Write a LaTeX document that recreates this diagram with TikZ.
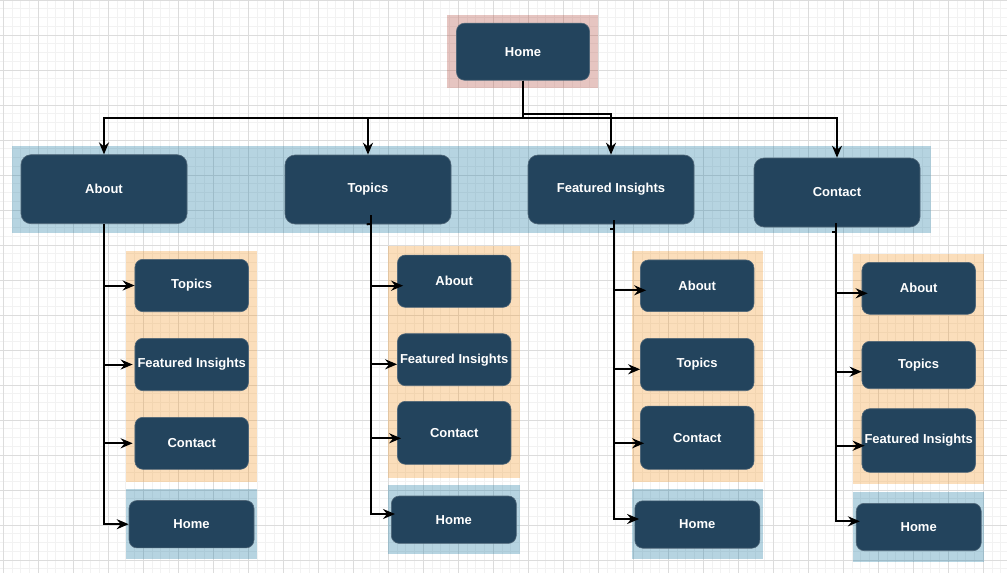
\documentclass[tikz,border=0pt]{standalone}
\usepackage{fontspec}
\setmainfont{Liberation Sans}
\usetikzlibrary{arrows.meta}
\definecolor{navy}{HTML}{23445D}
\definecolor{nodeedge}{HTML}{4F6678}
\definecolor{bandblue}{HTML}{10739E}
\definecolor{bandorange}{HTML}{F2931E}
\definecolor{bandpink}{HTML}{AE4132}
\definecolor{gridmajor}{HTML}{DCDCDC}
\definecolor{gridminor}{HTML}{F2F2F2}
\begin{document}
\begin{tikzpicture}[x=1pt,y=-1pt,
  navbox/.style={rectangle, rounded corners=8pt, fill=navy, draw=nodeedge, line width=0.6pt,
    text=white, font=\bfseries\fontsize{13}{15}\selectfont, inner sep=0pt, align=center},
  topbox/.style={navbox, rounded corners=10pt, minimum width=166pt, minimum height=69pt},
  childbox/.style={navbox, minimum width=113.5pt},
  homebox/.style={navbox, minimum width=125pt, minimum height=47.4pt},
  bandfill/.style={fill=#1, fill opacity=0.3, draw=none},
  link/.style={draw=black, line width=2pt, -{Stealth[length=12pt,width=10pt,inset=4pt]}},
  plain/.style={draw=black, line width=2pt},
  minorline/.style={draw=gridminor, line width=0.8pt},
  majorline/.style={draw=gridmajor, line width=0.9pt}
]
\useasboundingbox (0,0) rectangle (1007,573);
\fill[white] (0,0) rectangle (1007,573);
% grid
\foreach \i in {0,...,115} \draw[minorline] ({3.333+\i*8.75},0) -- ({3.333+\i*8.75},573);
\foreach \j in {0,...,66} \draw[minorline] (0,{\j*8.75}) -- (1007,{\j*8.75});
\foreach \i in {0,...,28} \draw[majorline] ({3.333+\i*35},0) -- ({3.333+\i*35},573);
\foreach \j in {0,...,16} \draw[majorline] (0,{\j*35}) -- (1007,{\j*35});

% background bands
\fill[bandfill=bandpink] (447.3,15) rectangle (598,88.3);
\fill[bandfill=bandblue] (12.3,146) rectangle (930.7,232.7);
\fill[bandfill=bandorange] (126,251) rectangle (256.7,481.7);
\fill[bandfill=bandblue] (126,489.3) rectangle (257,559);
\fill[bandfill=bandorange] (388.3,245.7) rectangle (520,477.7);
\fill[bandfill=bandblue] (388.3,485) rectangle (520,554);
\fill[bandfill=bandorange] (631.7,251) rectangle (762.7,481.7);
\fill[bandfill=bandblue] (631.7,489.3) rectangle (763,559.3);
\fill[bandfill=bandorange] (853,254) rectangle (984,484.3);
\fill[bandfill=bandblue] (853,492.3) rectangle (984,562);

% nodes
\node[navbox, minimum width=133pt, minimum height=57pt] (home) at (523,51.7) {Home};
\node[topbox] (about) at (104,189.2) {About};
\node[topbox] (topics) at (368,189.5) {Topics};
\node[topbox] (feat) at (611,189.5) {Featured Insights};
\node[topbox] (contact) at (837,192.5) {Contact};

% column 1
\node[childbox, minimum height=52.4pt] (c1t) at (191.7,285.5) {Topics};
\node[childbox, minimum height=52.4pt] (c1f) at (191.7,364.5) {Featured Insights};
\node[childbox, minimum height=52pt] (c1c) at (191.7,443.3) {Contact};
\node[homebox] (c1h) at (191.5,524.2) {Home};
% column 2
\node[childbox, minimum height=52.3pt] (c2a) at (454.2,281.2) {About};
\node[childbox, minimum height=52pt] (c2f) at (454.2,359.7) {Featured Insights};
\node[childbox, minimum height=63pt] (c2c) at (454.2,432.8) {Contact};
\node[homebox] (c2h) at (453.8,519.7) {Home};
% column 3
\node[childbox, minimum height=51.7pt] (c3a) at (697.2,285.8) {About};
\node[childbox, minimum height=52.4pt] (c3t) at (697.2,364.5) {Topics};
\node[childbox, minimum height=63.3pt] (c3c) at (697.2,437.7) {Contact};
\node[homebox] (c3h) at (697.3,524.5) {Home};
% column 4
\node[childbox, minimum height=52pt] (c4a) at (918.7,288.3) {About};
\node[childbox, minimum height=47.4pt] (c4t) at (918.7,365) {Topics};
\node[childbox, minimum height=63.6pt] (c4f) at (918.7,440.5) {Featured Insights};
\node[homebox] (c4h) at (918.7,527) {Home};

% connectors from Home
\coordinate (hj) at (523,118);
\coordinate (hk) at (523,114);
\draw[link] (home.south) -- (hj) -| (about.north);
\draw[link] (home.south) -- (hj) -| (topics.north);
\draw[link] (home.south) -- (hk) -| (feat.north);
\draw[link] (home.south) -- (hj) -| (contact.north);

% column 1 connectors
\draw[link] (about.south) |- (c1t.west);
\draw[link] (about.south) |- ([xshift=-2pt]c1f.west);
\draw[link] (about.south) |- ([xshift=-2pt]c1c.west);
\draw[link] (about.south) |- (c1h.west);

% column 2 connectors
\coordinate (t2) at (371,215);
\coordinate (s2) at (371,224);
\draw[plain] ([xshift=-1.3pt]topics.south) -- (s2);
\draw[link] (t2) |- ([xshift=6pt,yshift=-4.5pt]c2a.west);
\draw[link] (t2) |- ([yshift=-4.6pt]c2f.west);
\draw[link] (t2) |- ([xshift=4pt,yshift=-5.5pt]c2c.west);
\draw[link] (t2) |- ([xshift=4pt,yshift=5.7pt]c2h.west);

% column 3 connectors
\coordinate (t3) at (614,220);
\coordinate (s3) at (610,229);
\draw[plain] (s3) -- (t3 |- s3);
\draw[link] (t3) |- ([xshift=6pt,yshift=-4.5pt]c3a.west);
\draw[link] (t3) |- ([yshift=-4.8pt]c3t.west);
\draw[link] (t3) |- ([xshift=4pt,yshift=-5.6pt]c3c.west);
\draw[link] (t3) |- ([xshift=4.6pt,yshift=5.5pt]c3h.west);

% column 4 connectors
\coordinate (t4) at (836,223);
\coordinate (s4) at (832,232);
\draw[plain] (s4) -- (t4 |- s4);
\draw[link] (t4) |- ([xshift=6pt,yshift=-5pt]c4a.west);
\draw[link] (t4) |- ([yshift=-6.7pt]c4t.west);
\draw[link] (t4) |- ([xshift=3pt,yshift=-5.2pt]c4f.west);
\draw[link] (t4) |- ([xshift=4pt,yshift=5.7pt]c4h.west);
\end{tikzpicture}
\end{document}
